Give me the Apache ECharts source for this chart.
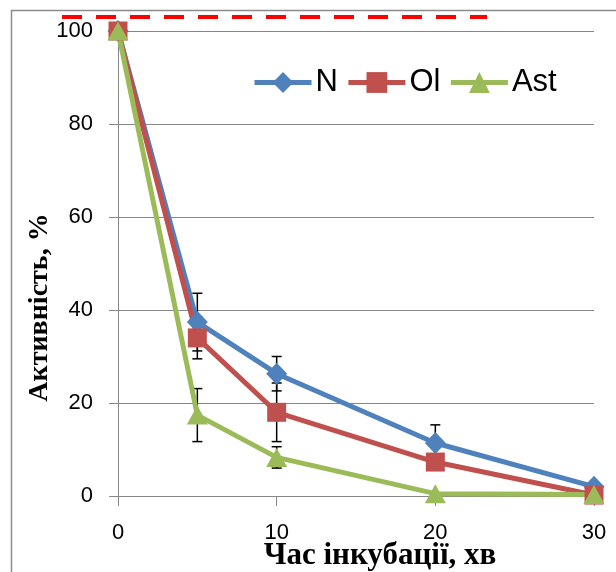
<!DOCTYPE html>
<html>
<head>
<meta charset="utf-8">
<script src="https://cdn.jsdelivr.net/npm/echarts@6/dist/echarts.min.js"></script>
<style>
  html, body { margin: 0; padding: 0; background: #fff; }
  #chart { width: 616px; height: 572px; }
</style>
</head>
<body>
<div id="chart"></div>
<script>
// Incubation time, minutes
const times = [0, 5, 10, 20, 30];
// Activity, % of initial
const valuesN   = [100, 37.4, 26.3, 11.4, 2.0];
const valuesOl  = [100, 34.0, 18.0, 7.3, 0.2];
const valuesAst = [100, 17.4, 8.3, 0.5, 0.3];
// Standard deviations (0 = no bar)
const errN   = [0, 6.2, 3.7, 3.9, 0];
const errOl  = [0, 4.5, 6.3, 0, 0];
const errAst = [0, 5.7, 2.3, 0, 0];
const seriesNames = ['N', 'Ol', 'Ast'];
const xTicks = [0, 10, 20, 30];
const yTicks = [0, 20, 40, 60, 80, 100];

const colors = ['#4F81BD', '#C0504D', '#9BBB59'];
const symbols = ['diamond', 'rect', 'triangle'];
const symbolSizes = [[21, 22], 19, [21, 19]];

const chart = echarts.init(document.getElementById('chart'), null, { renderer: 'canvas' });

const pairs = vals => times.map((t, i) => [t, vals[i]]);
const errRows = (vals, errs) => times.map((t, i) => [t, vals[i] - errs[i], vals[i] + errs[i], errs[i]]);

function errorBarSeries(vals, errs) {
  return {
    type: 'custom',
    z: 1,
    silent: true,
    data: errRows(vals, errs),
    renderItem: function (params, api) {
      if (api.value(3) <= 0) return null;
      const lo = api.coord([api.value(0), api.value(1)]);
      const hi = api.coord([api.value(0), api.value(2)]);
      const w = 5;
      const st = { stroke: '#000', lineWidth: 1.5 };
      return {
        type: 'group',
        children: [
          { type: 'line', shape: { x1: lo[0], y1: lo[1], x2: hi[0], y2: hi[1] }, style: st },
          { type: 'line', shape: { x1: lo[0] - w, y1: lo[1], x2: lo[0] + w, y2: lo[1] }, style: st },
          { type: 'line', shape: { x1: hi[0] - w, y1: hi[1], x2: hi[0] + w, y2: hi[1] }, style: st }
        ]
      };
    }
  };
}

const lineSeries = [valuesN, valuesOl, valuesAst].map((vals, k) => ({
  name: seriesNames[k],
  type: 'line',
  z: 3,
  data: pairs(vals),
  symbol: symbols[k],
  symbolSize: symbolSizes[k],
  showAllSymbol: true,
  lineStyle: { color: colors[k], width: 5 },
  itemStyle: { color: colors[k] },
  emphasis: { disabled: true },
  animation: false
}));

const gridGray = '#868686';

chart.setOption({
  animation: false,
  backgroundColor: '#fff',
  grid: { left: 118, right: 22, top: 31, bottom: 76, containLabel: false, outerBoundsMode: 'none' },
  legend: {
    top: 62,
    left: 247,
    itemWidth: 57,
    itemHeight: 26,
    itemGap: 8,
    data: seriesNames,
    lineStyle: { width: 5 },
    textStyle: { fontFamily: 'Liberation Sans', fontSize: 31, color: '#000', padding: [0, 0, 0, -1] }
  },
  xAxis: {
    type: 'value',
    min: 0,
    max: 30,
    interval: 10,
    name: 'Час інкубації, хв',
    nameLocation: 'middle',
    nameGap: 44,
    nameMoveOverlap: false,
    nameTextStyle: {
      fontFamily: 'Liberation Serif', fontWeight: 'bold', fontSize: 31, color: '#000',
      padding: [0, 0, 0, 48]
    },
    axisLine: { show: true, lineStyle: { color: gridGray, width: 1 } },
    axisTick: { show: true, length: 10, lineStyle: { color: gridGray } },
    axisLabel: {
      margin: 26, color: '#000', fontFamily: 'Liberation Sans', fontSize: 22,
      formatter: v => (xTicks.includes(v) ? String(v) : '')
    },
    splitLine: { show: false }
  },
  yAxis: {
    type: 'value',
    min: 0,
    max: 100,
    interval: 20,
    name: 'Активність, %',
    nameLocation: 'middle',
    nameGap: 64,
    nameMoveOverlap: false,
    nameTextStyle: {
      fontFamily: 'Liberation Serif', fontWeight: 'bold', fontSize: 28, color: '#000',
      padding: [0, 88, 0, 0]
    },
    axisLine: { show: true, lineStyle: { color: gridGray, width: 1 } },
    axisTick: { show: true, length: 9, lineStyle: { color: gridGray } },
    axisLabel: {
      margin: 25, color: '#000', fontFamily: 'Liberation Sans', fontSize: 22,
      formatter: v => (yTicks.includes(v) ? String(v) : '')
    },
    splitLine: { show: true, lineStyle: { color: gridGray, width: 1 } }
  },
  graphic: [
    // chart frame
    { type: 'rect', left: 9, top: 8, shape: { width: 800, height: 800 }, silent: true,
      style: { fill: 'none', stroke: '#8c8c8c', lineWidth: 1.5 }, z: 0 },
    // red dashed reference line above the 100 % level
    { type: 'line', silent: true, z: 10,
      shape: { x1: 62, y1: 17, x2: 487, y2: 17 },
      style: { stroke: '#FF0000', lineWidth: 4, lineDash: [20, 14] } }
  ],
  series: [
    errorBarSeries(valuesN, errN),
    errorBarSeries(valuesOl, errOl),
    errorBarSeries(valuesAst, errAst),
    ...lineSeries
  ]
});
</script>
</body>
</html>
